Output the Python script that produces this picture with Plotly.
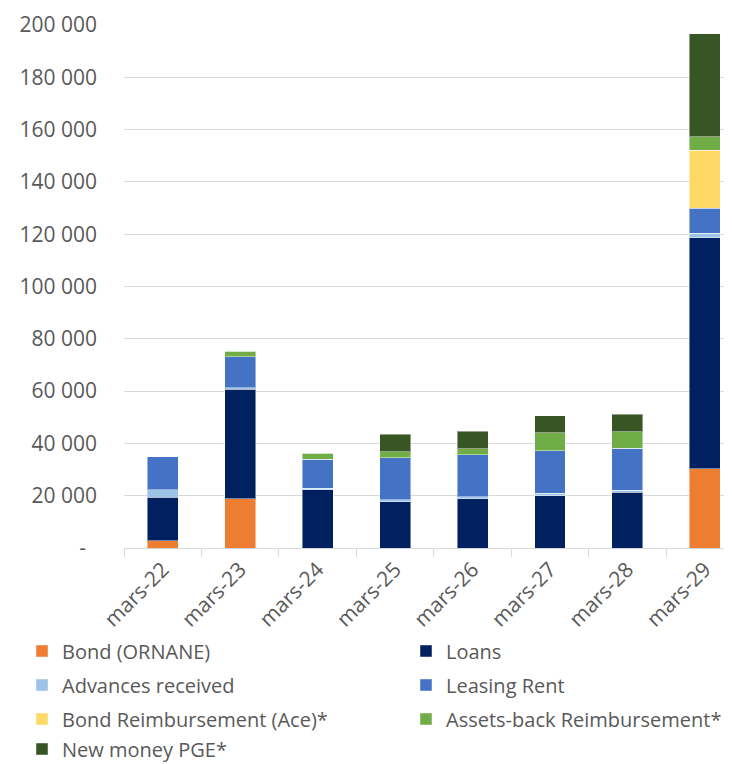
import plotly.graph_objects as go

categories = ["mars-22", "mars-23", "mars-24", "mars-25", "mars-26", "mars-27", "mars-28", "mars-29"]

bond_ornane = [2800, 18900, 0, 0, 0, 0, 0, 30400]
loans = [16600, 41800, 22200, 17700, 18900, 20000, 21300, 88300]
advances_received = [2800, 600, 700, 800, 700, 1000, 800, 1600]
leasing_rent = [12700, 11900, 11100, 16000, 16100, 16100, 16000, 9700]
bond_reimb_ace = [0, 0, 0, 0, 0, 0, 0, 22200]
assets_back_reimb = [0, 2100, 2300, 2300, 2300, 6900, 6400, 5000]
new_money_pge = [0, 0, 0, 6700, 6600, 6500, 6600, 39500]

y_tickvals = [0, 20000, 40000, 60000, 80000, 100000, 120000, 140000, 160000, 180000, 200000]
y_ticktext = ["-\u00a0\u00a0", "20 000", "40 000", "60 000", "80 000", "100 000",
              "120 000", "140 000", "160 000", "180 000", "200 000"]

# page body adds an 8px offset at top/left
W, H = 724, 756
FONT = "Open Sans"
grey = "#595959"

# (name, values, colour, legend left px, legend row centre y px) in figure coords
series = [
    ("Bond (ORNANE)", bond_ornane, "#ED7D31", 14, 643),
    ("Loans", loans, "#002060", 398, 643),
    ("Advances received", advances_received, "#9DC3E6", 14, 677),
    ("Leasing Rent", leasing_rent, "#4472C4", 398, 677),
    ("Bond Reimbursement (Ace)*", bond_reimb_ace, "#FFD966", 14, 711),
    ("Assets-back Reimbursement*", assets_back_reimb, "#70AD47", 398, 711),
    ("New money PGE*", new_money_pge, "#375623", 14, 741),
]

fig = go.Figure()
legends = {}
for i, (name, vals, color, lx, ly) in enumerate(series):
    lg = "legend" if i == 0 else f"legend{i + 1}"
    fig.add_trace(go.Bar(
        x=categories, y=vals, name=name, legend=lg,
        marker=dict(color=color, line=dict(color="rgba(255,255,255,0.45)", width=1)),
    ))
    legends[lg] = dict(
        orientation="v", xref="container", yref="container",
        x=lx / W, xanchor="left", y=1 - ly / H, yanchor="middle",
        font=dict(family=FONT, size=20, color=grey),
        bgcolor="rgba(0,0,0,0)", itemclick=False, itemdoubleclick=False,
    )

fig.update_layout(
    width=W, height=H,
    barmode="stack", bargap=0.6,
    plot_bgcolor="white", paper_bgcolor="white",
    margin=dict(l=116, r=0, t=17, b=216, autoexpand=False),
    font=dict(family=FONT, size=21, color=grey),
    showlegend=True,
    **legends,
)

fig.update_xaxes(
    type="category", range=[-0.5, 7.35],
    tickangle=-45, tickson="boundaries", ticks="outside", ticklen=8,
    tickcolor="#D9D9D9", showline=True, linecolor="#D9D9D9", linewidth=1,
    showgrid=False, tickfont=dict(family=FONT, size=21, color=grey),
)
fig.update_yaxes(
    range=[0, 200000], tickvals=y_tickvals, ticktext=y_ticktext,
    showgrid=True, gridcolor="#D9D9D9", gridwidth=1, zeroline=False,
    showline=False, ticks="", ticklabelstandoff=26,
    tickfont=dict(family=FONT, size=21, color=grey),
)

fig.write_html("out.html")
